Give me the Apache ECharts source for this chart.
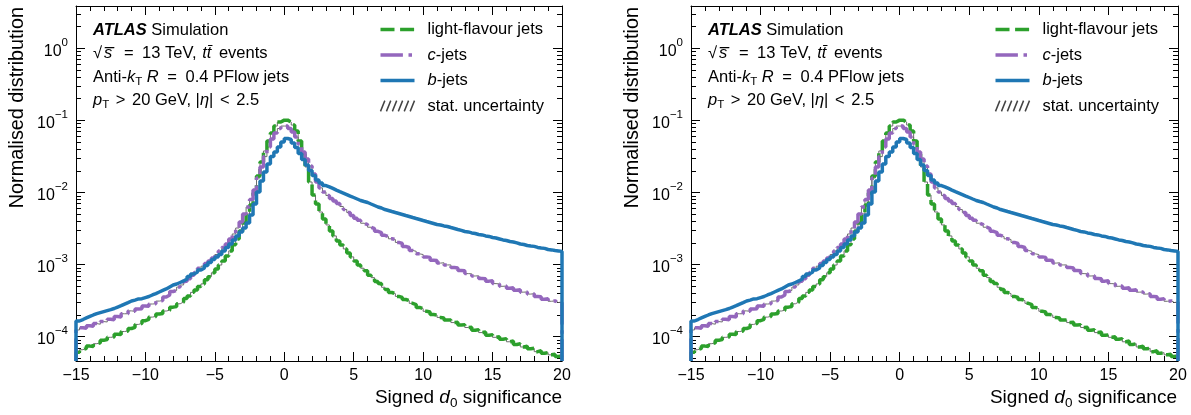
<!DOCTYPE html>
<html><head><meta charset="utf-8">
<script src="https://cdn.jsdelivr.net/npm/echarts@6/dist/echarts.min.js"></script>
<style>html,body{margin:0;padding:0;background:#fff}#c{width:1191px;height:415px}</style>
</head><body><div id="c"></div>
<script>
// ---- data: normalised histograms of signed d0 significance (bin width 0.25, from -15 to 20) ----
const BIN_LOW = -15;
const BIN_WIDTH = 0.25;
const lightJets = [
  6.1e-5, 6.6e-5, 6.9e-5, 7.4e-5, 7.3e-5, 8.0e-5, 8.2e-5, 8.9e-5, 9.1e-5, 9.8e-5, 9.9e-5, 1.08e-4, 1.07e-4, 1.18e-4, 1.20e-4, 1.30e-4, 1.35e-4, 1.48e-4, 1.53e-4, 1.67e-4,
  1.74e-4, 1.87e-4, 1.91e-4, 2.06e-4, 2.10e-4, 2.27e-4, 2.33e-4, 2.57e-4, 2.62e-4, 2.86e-4, 3.03e-4, 3.40e-4, 3.67e-4, 4.12e-4, 4.45e-4, 4.98e-4, 5.40e-4, 6.15e-4, 6.80e-4, 7.70e-4,
  8.69e-4, 9.87e-4, 1.12e-3, 1.32e-3, 1.55e-3, 1.88e-3, 2.27e-3, 2.93e-3, 3.78e-3, 5.04e-3, 6.71e-3, 9.84e-3, 1.69e-2, 2.66e-2, 3.77e-2, 5.18e-2, 6.69e-2, 8.36e-2, 9.50e-2, 1.01e-1,
  1.01e-1, 9.50e-2, 8.63e-2, 7.13e-2, 5.18e-2, 3.42e-2, 2.26e-2, 1.40e-2, 9.23e-3, 6.93e-3, 5.37e-3, 4.29e-3, 3.55e-3, 2.93e-3, 2.50e-3, 2.13e-3, 1.87e-3, 1.65e-3, 1.45e-3, 1.28e-3,
  1.12e-3, 9.9e-4, 8.9e-4, 8.2e-4, 7.1e-4, 6.6e-4, 5.85e-4, 5.45e-4, 4.85e-4, 4.50e-4, 4.10e-4, 3.96e-4, 3.62e-4, 3.50e-4, 3.28e-4, 3.17e-4, 2.90e-4, 2.79e-4, 2.55e-4, 2.45e-4,
  2.25e-4, 2.20e-4, 2.03e-4, 2.00e-4, 1.85e-4, 1.82e-4, 1.70e-4, 1.71e-4, 1.57e-4, 1.58e-4, 1.45e-4, 1.46e-4, 1.34e-4, 1.35e-4, 1.23e-4, 1.25e-4, 1.14e-4, 1.16e-4, 1.05e-4, 1.06e-4,
  9.8e-5, 1.0e-4, 9.2e-5, 9.4e-5, 8.5e-5, 8.7e-5, 7.8e-5, 8.0e-5, 7.2e-5, 7.4e-5, 6.8e-5, 6.9e-5, 6.2e-5, 6.4e-5, 5.9e-5, 6.0e-5, 5.6e-5, 5.7e-5, 5.3e-5, 5.4e-5
];
const cJets = [
  1.24e-4, 1.33e-4, 1.31e-4, 1.42e-4, 1.40e-4, 1.52e-4, 1.49e-4, 1.62e-4, 1.60e-4, 1.75e-4, 1.72e-4, 1.90e-4, 1.88e-4, 2.08e-4, 2.08e-4, 2.28e-4, 2.25e-4, 2.42e-4, 2.44e-4, 2.66e-4,
  2.64e-4, 2.84e-4, 2.86e-4, 3.12e-4, 3.17e-4, 3.55e-4, 3.78e-4, 4.23e-4, 4.38e-4, 4.88e-4, 5.22e-4, 5.90e-4, 6.35e-4, 7.14e-4, 7.80e-4, 8.90e-4, 9.50e-4, 1.04e-3, 1.12e-3, 1.24e-3,
  1.38e-3, 1.55e-3, 1.73e-3, 1.93e-3, 2.27e-3, 2.66e-3, 3.22e-3, 3.90e-3, 5.04e-3, 6.30e-3, 8.00e-3, 1.08e-2, 1.59e-2, 2.26e-2, 3.15e-2, 4.28e-2, 5.52e-2, 6.69e-2, 7.72e-2, 8.36e-2,
  8.36e-2, 7.72e-2, 6.91e-2, 5.89e-2, 4.71e-2, 3.65e-2, 2.92e-2, 2.34e-2, 1.81e-2, 1.40e-2, 1.16e-2, 1.02e-2, 9.09e-3, 8.26e-3, 7.62e-3, 7.04e-3, 6.40e-3, 5.81e-3, 5.28e-3, 4.80e-3,
  4.40e-3, 4.12e-3, 3.75e-3, 3.58e-3, 3.30e-3, 3.15e-3, 2.90e-3, 2.78e-3, 2.55e-3, 2.45e-3, 2.28e-3, 2.23e-3, 2.03e-3, 1.96e-3, 1.78e-3, 1.73e-3, 1.57e-3, 1.53e-3, 1.41e-3, 1.38e-3,
  1.28e-3, 1.26e-3, 1.15e-3, 1.14e-3, 1.05e-3, 1.06e-3, 9.9e-4, 9.9e-4, 9.1e-4, 9.0e-4, 8.3e-4, 8.2e-4, 7.5e-4, 7.45e-4, 6.95e-4, 7.0e-4, 6.4e-4, 6.35e-4, 5.9e-4, 5.95e-4,
  5.45e-4, 5.40e-4, 5.0e-4, 5.05e-4, 4.70e-4, 4.78e-4, 4.40e-4, 4.48e-4, 4.15e-4, 4.18e-4, 3.90e-4, 3.95e-4, 3.60e-4, 3.58e-4, 3.30e-4, 3.36e-4, 3.10e-4, 3.14e-4, 2.98e-4, 3.03e-4
];
const bJets = [
  1.65e-4, 1.73e-4, 1.82e-4, 1.91e-4, 2.00e-4, 2.09e-4, 2.16e-4, 2.23e-4, 2.30e-4, 2.37e-4, 2.46e-4, 2.58e-4, 2.69e-4, 2.83e-4, 2.97e-4, 3.13e-4, 3.22e-4, 3.34e-4, 3.37e-4, 3.49e-4,
  3.61e-4, 3.79e-4, 3.97e-4, 4.17e-4, 4.38e-4, 4.59e-4, 4.89e-4, 5.21e-4, 5.38e-4, 5.65e-4, 5.93e-4, 6.32e-4, 6.84e-4, 7.41e-4, 7.89e-4, 8.42e-4, 8.97e-4, 9.72e-4, 1.07e-3, 1.18e-3,
  1.28e-3, 1.38e-3, 1.55e-3, 1.73e-3, 1.93e-3, 2.20e-3, 2.50e-3, 2.84e-3, 3.22e-3, 3.78e-3, 4.88e-3, 6.93e-3, 1.02e-2, 1.44e-2, 1.93e-2, 2.48e-2, 3.15e-2, 3.65e-2, 4.28e-2, 5.02e-2,
  5.61e-2, 5.44e-2, 4.86e-2, 4.21e-2, 3.48e-2, 2.87e-2, 2.41e-2, 2.02e-2, 1.72e-2, 1.49e-2, 1.36e-2, 1.25e-2, 1.20e-2, 1.14e-2, 1.08e-2, 1.03e-2, 9.84e-3, 9.38e-3, 8.94e-3, 8.53e-3,
  8.13e-3, 7.75e-3, 7.50e-3, 7.27e-3, 6.93e-3, 6.61e-3, 6.30e-3, 6.10e-3, 5.81e-3, 5.63e-3, 5.45e-3, 5.28e-3, 5.12e-3, 4.96e-3, 4.80e-3, 4.65e-3, 4.50e-3, 4.36e-3, 4.23e-3, 4.09e-3,
  3.96e-3, 3.84e-3, 3.72e-3, 3.60e-3, 3.55e-3, 3.44e-3, 3.38e-3, 3.27e-3, 3.17e-3, 3.07e-3, 2.98e-3, 2.88e-3, 2.84e-3, 2.75e-3, 2.70e-3, 2.62e-3, 2.58e-3, 2.50e-3, 2.46e-3, 2.38e-3,
  2.34e-3, 2.27e-3, 2.20e-3, 2.16e-3, 2.09e-3, 2.06e-3, 2.00e-3, 1.93e-3, 1.90e-3, 1.84e-3, 1.81e-3, 1.79e-3, 1.73e-3, 1.70e-3, 1.68e-3, 1.62e-3, 1.60e-3, 1.57e-3, 1.55e-3, 1.52e-3
];
const SERIES_NAMES = ['light-flavour jets', 'c-jets', 'b-jets', 'stat. uncertainty'];
const X_MIN = -15, X_MAX = 20, X_INTERVAL = 5;
const Y_MIN = 4.6e-5, Y_MAX = 3.87;
const Y_MAJOR = [1e-4, 1e-3, 1e-2, 1e-1, 1];
const Y_MINOR_MULT = [2, 3, 4, 5, 6, 7, 8, 9];

// ---- helpers ----
const FONT = '"Liberation Sans", Arial, Helvetica, sans-serif';
const yMinor = [];
[1e-5, 1e-4, 1e-3, 1e-2, 1e-1, 1].forEach(d => Y_MINOR_MULT.forEach(m => {
  const v = d * m; if (v > Y_MIN && v < Y_MAX) yMinor.push(v);
}));
function stepData(vals) {
  const pts = [[BIN_LOW, Y_MIN]];
  vals.forEach((v, i) => pts.push([BIN_LOW + i * BIN_WIDTH, v]));
  const hi = BIN_LOW + vals.length * BIN_WIDTH;
  pts.push([hi, vals[vals.length - 1]]);
  pts.push([hi, Y_MIN]);
  return pts;
}
const minus = s => String(s).replace('-', '\u2212');

const panels = [{left: 76, right: 629, dx: 0}, {left: 691, right: 13, dx: 615}];
const grid = [], xAxis = [], yAxis = [], series = [], legend = [], graphic = [];
const axisLine = {show: true, onZero: false, lineStyle: {color: '#000', width: 1}};
const tickStyle = {color: '#000', width: 1};

panels.forEach((p, g) => {
  grid.push({left: p.left, right: p.right, top: 6, bottom: 54, containLabel: false});
  ['bottom', 'top'].forEach(pos => xAxis.push({
    gridIndex: g, type: 'value', position: pos, min: X_MIN, max: X_MAX, interval: X_INTERVAL,
    axisLine, splitLine: {show: false},
    axisTick: {show: true, inside: true, length: 9, lineStyle: tickStyle},
    minorTick: {show: true, splitNumber: 5, length: 5, lineStyle: tickStyle},
    axisLabel: pos === 'bottom' ? {show: true, margin: 7, color: '#000', fontSize: 16, fontFamily: FONT,
      showMinLabel: true, showMaxLabel: true, formatter: v => minus(v)} : {show: false}
  }));
  ['left', 'right'].forEach(pos => {
    yAxis.push({
      gridIndex: g, type: 'log', logBase: 10, position: pos, min: Y_MIN, max: Y_MAX,
      axisLine, splitLine: {show: false},
      axisTick: {show: true, inside: true, length: 9, lineStyle: tickStyle, customValues: Y_MAJOR},
      axisLabel: pos === 'left' ? {
        show: true, margin: 8, customValues: Y_MAJOR,
        formatter: v => '{b|10}{s|' + minus(Math.round(Math.log10(v))) + '}',
        rich: {
          b: {fontSize: 16, fontFamily: FONT, color: '#000', padding: [6, 0, 0, 0]},
          s: {fontSize: 11.5, fontFamily: FONT, color: '#000', padding: [0, 0, 12, 0]}
        }
      } : {show: false}
    });
    yAxis.push({
      gridIndex: g, type: 'log', logBase: 10, position: pos, min: Y_MIN, max: Y_MAX,
      axisLine: {show: false, onZero: false}, splitLine: {show: false}, axisLabel: {show: false},
      axisTick: {show: true, inside: true, length: 5, lineStyle: tickStyle, customValues: yMinor}
    });
  });
  const xi = 2 * g, yi = 4 * g;
  const common = {type: 'line', step: 'end', symbol: 'none', showSymbol: false, xAxisIndex: xi, yAxisIndex: yi,
    clip: true, animation: false, silent: true};
  [lightJets, cJets, bJets].forEach(vals => series.push(Object.assign({}, common, {
    name: SERIES_NAMES[3], data: stepData(vals), z: 1,
    lineStyle: {color: '#6e6e6e', width: 1}, itemStyle: {color: '#6e6e6e'}
  })));
  series.push(Object.assign({}, common, {name: SERIES_NAMES[0], data: stepData(lightJets), z: 2,
    lineStyle: {color: '#2ca02c', width: 3.5, type: [14, 5.6]}, itemStyle: {color: '#2ca02c'}}));
  series.push(Object.assign({}, common, {name: SERIES_NAMES[1], data: stepData(cJets), z: 3,
    lineStyle: {color: '#9467bd', width: 3.5, type: [22.4, 5.6, 3.5, 5.6]}, itemStyle: {color: '#9467bd'}}));
  series.push(Object.assign({}, common, {name: SERIES_NAMES[2], data: stepData(bJets), z: 4,
    lineStyle: {color: '#1f77b4', width: 3.5}, itemStyle: {color: '#1f77b4'}}));

  legend.push({
    show: true, orient: 'vertical', left: 378 + p.dx, top: 21, padding: 0,
    itemWidth: 34, itemHeight: 14, itemGap: 8.5, selectedMode: false,
    lineStyle: {width: 3.5}, itemStyle: {opacity: 0},
    data: [SERIES_NAMES[0], SERIES_NAMES[1], SERIES_NAMES[2], {
      name: SERIES_NAMES[3],
      icon: 'path://M1,10L5,0M6.5,10L10.5,0M12,10L16,0M17.5,10L21.5,0M23,10L27,0M28.5,10L32.5,0',
      itemStyle: {opacity: 1, color: 'none', borderColor: '#444', borderWidth: 1.5}
    }],
    formatter: n => ({'c-jets': '{i|c}-jets', 'b-jets': '{i|b}-jets'})[n] || n,
    textStyle: {fontSize: 16.5, fontFamily: FONT, color: '#000', lineHeight: 14, padding: [0, 0, 0, 8],
      rich: {i: {fontSize: 16.5, fontFamily: FONT, fontStyle: 'italic', color: '#000', lineHeight: 14}}}
  });

  const T = 16.5;
  const rich = {
    bi: {fontSize: T, fontFamily: FONT, fontWeight: 'bold', fontStyle: 'italic', fill: '#000'},
    i: {fontSize: T, fontFamily: FONT, fontStyle: 'italic', fill: '#000'},
    ip: {fontSize: T, fontFamily: FONT, fontStyle: 'italic', fill: '#000', padding: [0, 3, 0, 1]},
    n: {fontSize: T, fontFamily: FONT, fill: '#000'},
    sq: {fontSize: T, fontFamily: FONT, fill: '#000', padding: [0, 1, 0, 0]},
    op: {fontSize: T, fontFamily: FONT, fill: '#000', padding: [0, 4, 0, 4]},
    op2: {fontSize: T, fontFamily: FONT, fill: '#000', padding: [0, 2, 0, 2]},
    sub: {fontSize: 11.5, fontFamily: FONT, fill: '#000', padding: [9, 0, 0, 0]}
  };
  const lines = [
    '{bi|ATLAS}{n| Simulation}',
    '{sq|\u221A}{ip|s\u0305}{op| = }{n|13 TeV, }{ip|tt\u0304}{n| events}',
    '{n|Anti-}{i|k}{sub|T}{n| }{i|R}{op| = }{n|0.4 PFlow jets}',
    '{i|p}{sub|T}{op2| > }{n|20 GeV, |}{i|\u03B7}{n||}{op2| < }{n|2.5}'
  ];
  const ys = [30, 53.5, 77, 100.5];
  lines.forEach((t, k) => graphic.push({
    type: 'text', x: 93 + p.dx, y: ys[k], silent: true,
    style: {text: t, fontSize: T, fontFamily: FONT, fill: '#000', align: 'left', verticalAlign: 'middle', rich}
  }));
  const TT = 19;
  const trich = {
    n: {fontSize: TT, fontFamily: FONT, fill: '#000'},
    i: {fontSize: TT, fontFamily: FONT, fontStyle: 'italic', fill: '#000'},
    sub: {fontSize: 13.5, fontFamily: FONT, fill: '#000', padding: [10, 0, 0, 0]}
  };
  graphic.push({
    type: 'text', x: 562 + p.dx, y: 398, silent: true,
    style: {text: '{n|Signed }{i|d}{sub|0}{n| significance}', fontSize: TT, fontFamily: FONT, fill: '#000',
      align: 'right', verticalAlign: 'middle', rich: trich}
  });
  graphic.push({
    type: 'text', x: 18 + p.dx, y: 7, rotation: Math.PI / 2, silent: true,
    style: {text: 'Normalised distribution', fontSize: 19.8, fontFamily: FONT, fill: '#000',
      align: 'right', verticalAlign: 'middle'}
  });
});

const chart = echarts.init(document.getElementById('c'), null, {renderer: 'canvas'});
chart.setOption({
  animation: false, backgroundColor: '#fff',
  textStyle: {fontFamily: FONT},
  grid, xAxis, yAxis, series, legend, graphic
});
</script></body></html>
